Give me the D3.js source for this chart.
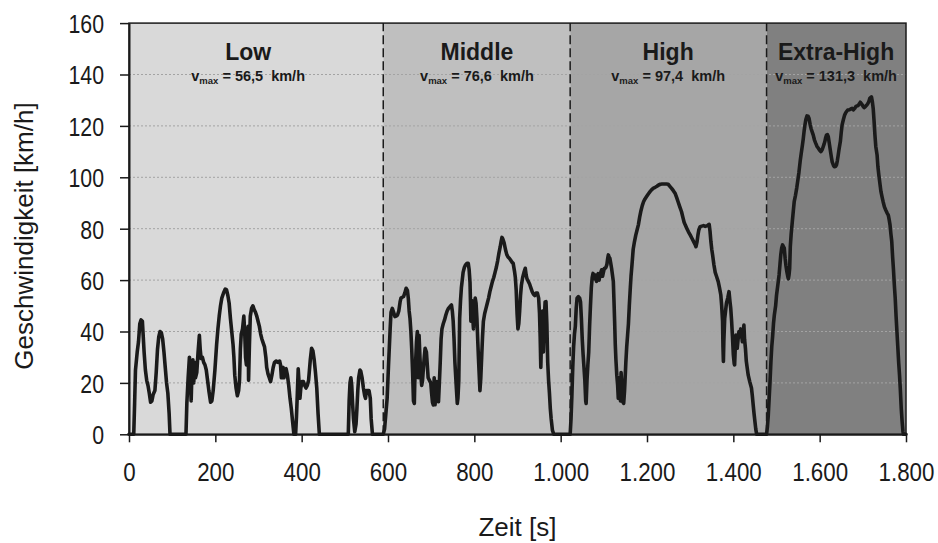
<!DOCTYPE html>
<html>
<head>
<meta charset="utf-8">
<script src="https://cdn.jsdelivr.net/npm/d3@7"></script>
<style>
  html, body { margin: 0; padding: 0; background: #ffffff; }
  svg { display: block; font-family: "Liberation Sans", Arial, sans-serif; }
</style>
</head>
<body>
<svg id="chart" width="938" height="543"></svg>
<script>
// ---------- DATA ----------
const phaseNames = ["Low", "Middle", "High", "Extra-High"];
const phaseStart = [0, 589, 1022, 1477];
const phaseEnd = [589, 1022, 1477, 1800];
const phaseVmax = ["56,5", "76,6", "97,4", "131,3"];
const phaseLabelTime = [276, 806, 1249, 1638];
const phaseColors = ["#d9d9d9", "#bfbfbf", "#a6a6a6", "#808080"];

const xTicks = [0, 200, 400, 600, 800, 1000, 1200, 1400, 1600, 1800];
const xTickLabels = ["0", "200", "400", "600", "800", "1.000", "1.200", "1.400", "1.600", "1.800"];
const yTicks = [0, 20, 40, 60, 80, 100, 120, 140, 160];
const yTickLabels = ["0", "20", "40", "60", "80", "100", "120", "140", "160"];

// time [s]
const timeS = [
  0, 11, 13, 15, 19, 22, 25, 28, 31, 33, 35, 38, 41, 44, 47, 50, 53, 56, 60, 63, 66, 69, 72, 75, 78, 81, 84, 87, 90, 93, 95,
  132, 134, 137, 140, 142, 144, 146, 148, 150, 152, 154, 157, 160, 163, 165, 167, 170, 173, 176, 179, 182, 185, 189, 192, 195, 199,
  203, 206, 209, 212, 215, 219, 223, 226, 229, 232, 235, 238, 241, 243, 245, 248, 251, 254, 256, 258, 260, 263, 266, 268, 270, 272,
  274, 276, 277, 279, 281, 284, 287, 290, 293, 296, 299, 302, 305, 308, 311, 314, 317, 319, 322, 325, 328, 331, 334, 337, 341, 345,
  349, 351, 353, 355, 357, 359, 361, 364, 367, 370, 373, 376, 379, 382, 386, 388, 390, 392, 394, 396, 398, 401, 404, 407, 410, 413,
  416, 418, 420, 423, 426, 429, 432, 435, 438, 441, 508, 510, 512, 514, 516, 518, 520, 523, 526, 528, 530, 532, 535, 537, 540, 543,
  546, 548, 550, 553, 556, 559, 561, 564,
  589, 592, 595, 598, 601, 603, 605, 607, 610, 613, 616, 619, 622, 625, 628, 630, 633, 636, 639, 642, 645, 647, 649, 651, 653, 655,
  657, 659, 661, 662, 664, 666, 668, 669, 670, 672, 674, 676, 678, 680, 682, 684, 686, 689, 691, 693, 696, 699, 701, 703, 705, 707,
  709, 711, 713, 715, 717, 719, 721, 723, 725, 728, 731, 734, 737, 740, 744, 747, 749, 751, 753, 755, 758, 760.5, 762, 764, 766, 768,
  770, 772, 774, 777, 780, 783, 786, 788, 790, 791, 792, 794, 796, 798, 800, 802, 804, 806, 808, 810, 813, 815, 817, 819, 821, 824,
  827, 830, 833, 836, 839, 842, 845, 848, 851, 854, 857, 860, 862, 864, 866, 869, 872, 875, 878, 881, 884, 887, 890, 893, 895, 897,
  899, 901, 903, 905, 907, 909, 912, 915, 918, 920, 922, 925, 928, 931, 934, 937, 940, 943, 946, 949, 951, 952.5, 954, 956, 958, 960,
  962, 964, 966, 968, 970, 972, 974, 976, 978, 981, 984,
  1022, 1024, 1026, 1028, 1030, 1032, 1034, 1036, 1038, 1041, 1044, 1046, 1048, 1050, 1052, 1054, 1056, 1058, 1059, 1061, 1063, 1065,
  1067, 1069, 1071, 1073, 1075, 1077, 1079, 1081, 1083, 1085, 1087, 1089, 1091, 1093, 1095, 1097, 1099, 1101, 1103, 1105, 1107, 1109,
  1110.5, 1112, 1114, 1116, 1118, 1120, 1122, 1123.5, 1125, 1126.5, 1128, 1130, 1132, 1133.5, 1135, 1137, 1138.5, 1140, 1142, 1143.6,
  1146, 1148, 1149, 1151, 1153, 1155, 1157, 1159, 1161, 1163, 1165, 1168, 1171, 1174, 1177, 1180, 1183, 1186, 1189, 1192, 1195, 1199,
  1203, 1207, 1211, 1215, 1219, 1223, 1227, 1231, 1235, 1240, 1245, 1249, 1253, 1257, 1261, 1265, 1269, 1272, 1276, 1280, 1283, 1286,
  1289, 1292, 1296, 1300, 1304, 1308, 1311, 1313.5, 1316, 1318, 1320, 1323, 1327, 1331, 1335, 1339, 1342, 1344, 1346, 1348, 1350, 1352,
  1355, 1358, 1361, 1365, 1368, 1371, 1373, 1375, 1376, 1377, 1378, 1380, 1382, 1384, 1387, 1390, 1392, 1394, 1396, 1398, 1400, 1402,
  1403, 1404.5, 1406, 1408, 1409, 1411, 1413, 1415, 1417, 1419, 1421, 1423, 1424.5, 1426, 1428, 1430, 1432, 1434.5, 1438, 1442, 1444,
  1446, 1448, 1450, 1452, 1454,
  1477, 1479, 1481, 1483, 1485, 1487, 1489, 1491, 1493, 1495, 1498, 1500, 1503, 1506, 1508, 1510, 1512, 1514, 1516, 1518, 1520, 1522,
  1524, 1526, 1527.5, 1529, 1530.5, 1532, 1534, 1536.6, 1539, 1541, 1544, 1547, 1550, 1552, 1555, 1557, 1560, 1562, 1564, 1566, 1568,
  1570.7, 1573, 1575.3, 1578, 1580, 1583, 1585, 1588, 1591, 1594, 1597, 1600, 1603, 1606, 1608, 1610, 1612, 1614, 1616, 1618, 1620,
  1622, 1624, 1627, 1629, 1632, 1634, 1637, 1639, 1641, 1643, 1645, 1648, 1650, 1652, 1655, 1658, 1661, 1665, 1669, 1672, 1675, 1678,
  1681, 1684, 1687, 1690, 1692, 1694, 1696, 1699, 1701, 1703, 1705, 1708, 1710, 1712, 1714, 1716, 1718, 1720, 1722, 1724, 1726, 1728,
  1730, 1733, 1735, 1737, 1740, 1742, 1745, 1747, 1750, 1753, 1756, 1759, 1761, 1763, 1765, 1767, 1769, 1771, 1773, 1775, 1777, 1779,
  1781, 1783, 1785, 1787, 1789, 1791, 1793, 1794, 1800
];

// speed [km/h]
const speedKmh = [
  0, 0, 12, 25, 32, 36, 43, 44.5, 44, 38, 32, 25, 21, 19, 16, 12.5, 13, 15.5, 17, 24, 33, 38, 40, 39.5, 37, 32, 26, 20, 16, 8, 0,
  0, 12, 22, 30, 22, 13, 25, 29, 20, 28, 22, 24, 32, 38.5, 33, 29.5, 30, 28, 27, 25, 21, 17, 12.5, 13, 17, 25,
  35, 41, 46, 50, 53, 55, 56.5, 56.2, 54, 51, 45, 40, 35, 30, 23, 18, 15, 17, 21, 33, 39, 41, 46, 40, 30, 27,
  38, 42, 21, 35, 46, 49, 50, 48.5, 47.5, 46, 44, 42, 39, 37, 35.5, 34, 30, 26, 23.5, 22, 20.5, 23, 26, 28, 28.5, 28,
  28.5, 27, 22, 25.5, 26, 22, 25, 25.5, 23, 19, 14, 10, 5, 0, 0, 7, 16, 25.5, 20, 14, 18, 20.5, 20.5, 19, 18, 19,
  21, 25, 29, 33.5, 32.5, 29, 24, 18, 8, 0, 0, 13, 20, 22, 19, 12, 6, 1, 4, 10, 17, 22, 25, 24.5, 22, 18,
  15, 14, 17, 17, 17, 14, 6, 0,
  0, 2, 8, 14, 26, 33.5, 41, 47.5, 49, 47.5, 45.8, 46, 46.4, 48, 51.5, 53, 53.3, 53.6, 55, 56.8, 56, 53, 48, 45, 40, 33,
  24, 13, 12, 20, 28, 36, 40, 30, 22, 38.5, 30, 23, 19, 21, 25.7, 30, 33.5, 32, 27, 22, 21, 20, 16, 12.5, 11.4, 22,
  11.5, 16, 20.5, 15, 12.7, 20, 28, 37, 41, 43, 44.5, 46.4, 48, 49, 49.8, 50.3, 48, 44, 37, 28, 19, 12, 14, 21, 45, 52,
  57, 60, 63, 65, 66, 66.5, 66.5, 64, 59, 52, 44, 52, 46, 41, 50, 53, 51, 45, 36, 28, 17, 22, 30, 38, 44, 47,
  49, 51, 53, 55.5, 57.5, 59.5, 61, 63, 65, 67.5, 70.5, 73, 75, 76.6, 76, 74.5, 72, 70, 69, 68.5, 67.8, 67, 66.5, 63.5, 61, 56,
  47, 41, 43, 48, 54, 58, 61, 63, 64.6, 62, 60.5, 59.5, 58.5, 57, 55.5, 54.5, 54, 55, 55, 53, 47, 38, 26, 40, 48, 32,
  45, 51.5, 51.6, 43, 28, 21, 16, 10, 6, 1.5, 0,
  0, 6, 15, 26, 34, 39, 42, 49, 53, 53.6, 53, 51.5, 45, 37, 31, 26, 21, 13, 12, 21, 27, 32,
  42, 50, 57, 61, 62.6, 61, 60.5, 62, 59.5, 61, 62.5, 60, 62, 63, 64, 61.5, 63, 64.5, 64.6, 65, 66, 68.5,
  69.8, 69, 68.5, 66.5, 64.5, 62, 59.4, 52, 44, 35, 29, 23, 19, 14, 22, 17, 13, 24, 18, 12.7,
  12, 17, 20.5, 28, 34, 38.5, 43, 50, 56, 61.5, 65.5, 72, 75, 77.5, 79.5, 81.5, 84.5, 87, 89, 90.5, 91.5, 92.5,
  93.5, 94.4, 95.2, 95.8, 96.1, 96.5, 97, 97.3, 97.4, 97.4, 97.4, 97.3, 96.5, 95.7, 94.8, 93.8, 92, 90.5, 88.5, 86.6, 84.5, 82.5,
  81.3, 80.2, 78.8, 77.6, 76.3, 75, 74, 73, 75, 77.5, 79.5, 80.8, 81, 81.2, 80.9, 81.1, 81.5, 81.7, 79, 75, 72, 69.8,
  66, 63, 61.5, 59.4, 57, 54.2, 50, 44, 34, 28.3, 36, 45, 48, 51, 53, 55.5, 52, 49, 44, 38, 31, 27.5,
  27, 34, 38.6, 35, 33.5, 37, 40, 38, 41, 39, 36, 40, 42.5, 37, 33.5, 28.5, 26, 23, 20.5, 18, 15,
  11.4, 8, 5, 2, 0,
  0, 3, 7.5, 14, 20.5, 28, 34, 38, 43, 46.4, 50, 54, 58, 62, 66, 70, 72.5, 73.7, 73, 72.4, 68.5, 65.5,
  63.3, 61.5, 60.5, 62, 64.6, 73, 78, 82.7, 87, 90.5, 93, 96, 99.5, 102, 106.5, 109, 112.5, 115, 118, 120.4, 122.5,
  123.9, 123.8, 123, 120.5, 119, 117.5, 116.5, 114.5, 113.2, 112, 111.3, 110.5, 110, 110.8, 111.8, 112.8, 113.9, 115.5, 116.5, 116.6, 115.8,
  113.5, 111.3, 108, 106, 104.6, 104.1, 104.3, 104.8, 106.5, 108.7, 111, 114, 117.5, 120.4, 122.5, 124.3, 125.3, 126.2, 126.3, 126.6, 126.8, 126.2,
  126.8, 127.6, 127.8, 128.1, 128.6, 129.2, 128.8, 128.1, 127.5, 127.1, 127.4, 127.9, 128.3, 128.8, 129.5, 130.7, 131, 131.3, 129.5, 126.8, 122, 116.5,
  112, 108.7, 104, 101, 97, 94.4, 92, 90.5, 88.5, 87.3, 86.2, 85.3, 83.5, 81.5, 78, 75, 69, 64, 58, 53, 46, 40,
  34, 28, 23, 17, 10, 5, 1, 0, 0
];

// ---------- CHART ----------
const svg = d3.select("#chart");
const x = d3.scaleLinear().domain([0, 1800]).range([129, 906]);
const y = d3.scaleLinear().domain([0, 160]).range([434.3, 23.1]);
const NARROW_Y = 0.82;
const NARROW_X = 0.86;

const phases = phaseNames.map((n, i) => ({
  name: n, start: phaseStart[i], end: phaseEnd[i], vmax: phaseVmax[i],
  labelT: phaseLabelTime[i], color: phaseColors[i]
}));

// phase backgrounds
svg.append("g").selectAll("rect").data(phases).join("rect")
  .attr("x", d => x(d.start))
  .attr("y", y(160))
  .attr("width", d => x(d.end) - x(d.start))
  .attr("height", y(0) - y(160))
  .attr("fill", d => d.color);

// grid lines
svg.append("g").selectAll("line").data(yTicks.filter(v => v > 0 && v < 160)).join("line")
  .attr("x1", x(0)).attr("x2", x(1800))
  .attr("y1", d => y(d)).attr("y2", d => y(d))
  .attr("stroke", "#a3a3a3")
  .attr("stroke-width", 1)
  .attr("stroke-dasharray", "2,2");

// phase labels
const lab = svg.append("g").selectAll("g").data(phases).join("g")
  .attr("transform", d => `translate(${x(d.labelT)},0)`);
lab.append("text")
  .attr("y", 60)
  .attr("text-anchor", "middle")
  .attr("font-weight", "bold")
  .attr("font-size", 23)
  .attr("fill", "#1a1a1a")
  .text(d => d.name);
const vt = lab.append("text")
  .attr("y", 80.5)
  .attr("text-anchor", "middle")
  .attr("font-weight", "bold")
  .attr("font-size", 14.5)
  .attr("fill", "#1a1a1a")
  .style("white-space", "pre");
vt.append("tspan").text("v");
vt.append("tspan").attr("font-size", 9.5).attr("dy", 3).text("max");
vt.append("tspan").attr("dy", -3).text(d => " = " + d.vmax + "  km/h");

// phase separators
svg.append("g").selectAll("line").data(phaseStart.slice(1)).join("line")
  .attr("x1", d => x(d)).attr("x2", d => x(d))
  .attr("y1", y(0)).attr("y2", y(160))
  .attr("stroke", "#1a1a1a")
  .attr("stroke-width", 1.5)
  .attr("stroke-dasharray", "9,4");

// speed trace
const pts = timeS.map((t, i) => ({ t: t, v: speedKmh[i] }));
svg.append("path")
  .datum(pts)
  .attr("fill", "none")
  .attr("stroke", "#1a1a1a")
  .attr("stroke-width", 3.6)
  .attr("stroke-linejoin", "round")
  .attr("stroke-linecap", "round")
  .attr("d", d3.line().x(d => x(d.t)).y(d => y(d.v)));

// frame
svg.append("rect")
  .attr("x", x(0)).attr("y", y(160))
  .attr("width", x(1800) - x(0)).attr("height", y(0) - y(160))
  .attr("fill", "none")
  .attr("stroke", "#1a1a1a")
  .attr("stroke-width", 1.5);

// axes
const xAxis = svg.append("g")
  .attr("transform", `translate(0,${y(0)})`)
  .call(d3.axisBottom(x).tickValues(xTicks).tickSize(8).tickSizeOuter(0)
    .tickFormat((d, i) => xTickLabels[i]));
xAxis.select(".domain").attr("stroke", "#1a1a1a").attr("stroke-width", 2);
xAxis.selectAll(".tick line").attr("stroke", "#1a1a1a").attr("stroke-width", 1.5);
xAxis.selectAll(".tick text")
  .attr("y", 47).attr("dy", 0)
  .attr("font-size", 26)
  .attr("font-family", "Liberation Sans, Arial, sans-serif")
  .attr("fill", "#1a1a1a")
  .attr("transform", `scale(${NARROW_X},1)`);

const yAxis = svg.append("g")
  .attr("transform", `translate(${x(0)},0)`)
  .call(d3.axisLeft(y).tickValues(yTicks).tickSize(9).tickSizeOuter(0)
    .tickFormat((d, i) => yTickLabels[i]));
yAxis.select(".domain").attr("stroke", "#1a1a1a").attr("stroke-width", 2);
yAxis.selectAll(".tick line").attr("stroke", "#1a1a1a").attr("stroke-width", 1.5);
yAxis.selectAll(".tick text")
  .attr("x", -25 / NARROW_Y).attr("dy", "0.36em")
  .attr("font-size", 26)
  .attr("font-family", "Liberation Sans, Arial, sans-serif")
  .attr("fill", "#1a1a1a")
  .attr("transform", `scale(${NARROW_Y},1)`);

// axis titles
svg.append("text")
  .attr("x", (x(0) + x(1800)) / 2)
  .attr("y", 536)
  .attr("text-anchor", "middle")
  .attr("font-size", 26)
  .attr("fill", "#1a1a1a")
  .text("Zeit [s]");

svg.append("text")
  .attr("transform", `translate(33,${236}) rotate(-90)`)
  .attr("text-anchor", "middle")
  .attr("font-size", 26)
  .attr("fill", "#1a1a1a")
  .text("Geschwindigkeit [km/h]");
</script>
</body>
</html>
